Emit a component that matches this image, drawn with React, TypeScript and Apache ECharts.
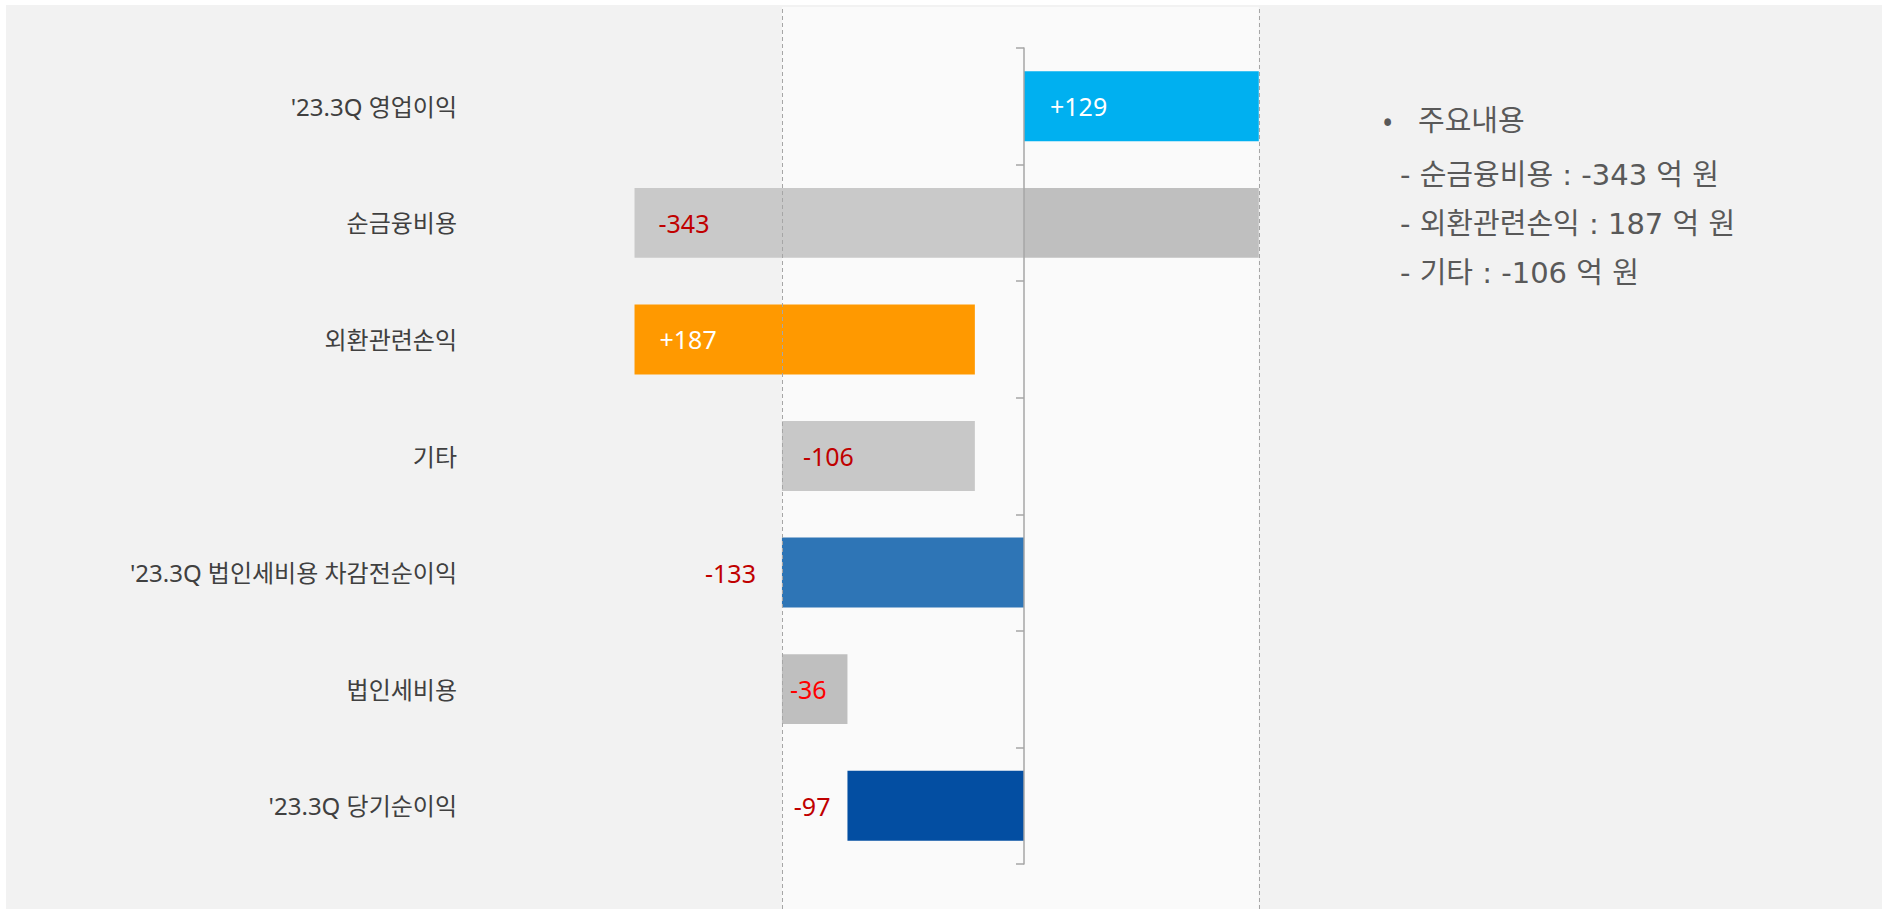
import React, { useEffect, useRef } from "react";
import * as echarts from "echarts";

const categories = [
  "'23.3Q 영업이익",
  "순금융비용",
  "외환관련손익",
  "기타",
  "'23.3Q 법인세비용 차감전순이익",
  "법인세비용",
  "'23.3Q 당기순이익",
];
const changes = [129, -343, 187, -106, -133, 36, -97];
const isTotal = [true, false, false, false, true, false, true];
const valueLabels = ["+129", "-343", "+187", "-106", "-133", "-36", "-97"];
const faintLabels = ["+44", "- 62"];
const noteTitle = "주요내용";
const noteLines = [
  "- 순금융비용 : -343 억 원",
  "- 외환관련손익 : 187 억 원",
  "- 기타 : -106 억 원",
];
const axisMin = -300;
const axisMax = 300;

// styles (kept apart from values)
const barFill = ["#00b0f0", "#c9c9c9", "#ff9900", "#c8c8c8", "#2e75b6", "#bfbfbf", "#034ea2"];
const barFillPositiveSide = ["#00b0f0", "#bfbfbf", "#ff9900", "#c8c8c8", "#2e75b6", "#bfbfbf", "#034ea2"];
const labelColors = ["#ffffff", "#c00000", "#ffffff", "#c00000", "#c00000", "#ff0000", "#c00000"];
const labelOffsets = [26, 24, 25, 21, -26, 8, -17];

const FONT = "'Noto Sans', 'Noto Sans CJK KR', sans-serif";
const NOTE_FONT = "'DejaVu Sans', 'Noto Sans CJK KR', sans-serif";

function buildBars() {
  let running = 0;
  const out: number[][] = [];
  changes.forEach((c, i) => {
    let s: number, e: number;
    if (isTotal[i]) {
      s = 0;
      e = c;
    } else {
      s = running;
      e = running + c;
    }
    running = e;
    out.push([i, s, e]);
  });
  return out;
}

export default function App() {
  const ref = useRef<HTMLDivElement>(null);
  useEffect(() => {
    if (!ref.current) return;
    const chart = echarts.init(ref.current, undefined, { renderer: "svg" });
    const bars = buildBars();
    const panelFrom = bars[4][2];
    const panelTo = bars[0][2];
    const gridLR = { left: 472, right: 312 };

    const option: any = {
      animation: false,
      backgroundColor: "#f2f2f2",
      grid: [
        { ...gridLR, top: 43, bottom: 45 },
        { ...gridLR, top: 2, bottom: 0 },
      ],
      xAxis: [
        { type: "value", gridIndex: 0, min: axisMin, max: axisMax, show: false },
        { type: "value", gridIndex: 1, min: axisMin, max: axisMax, show: false },
      ],
      yAxis: [
        {
          type: "category",
          gridIndex: 0,
          data: categories,
          inverse: true,
          position: "left",
          axisLine: { show: false, onZero: false },
          axisTick: { show: false },
          splitLine: { show: false },
          axisLabel: { fontSize: 24, color: "#404040", margin: 21, fontFamily: FONT },
        },
        {
          type: "category",
          gridIndex: 0,
          data: categories,
          inverse: true,
          position: "left",
          z: 5,
          axisLine: { show: true, onZero: true, onZeroAxisIndex: 0, lineStyle: { color: "#a6a6a6", width: 1.5 } },
          axisTick: { show: true, length: 8, lineStyle: { color: "#a6a6a6", width: 1.5 } },
          axisLabel: { show: false },
          splitLine: { show: false },
        },
        { type: "value", gridIndex: 1, min: 0, max: 1, show: false },
      ],
      series: [
        {
          type: "line",
          xAxisIndex: 1,
          yAxisIndex: 2,
          z: 0,
          silent: true,
          showSymbol: false,
          lineStyle: { opacity: 0 },
          data: [[0, 0.5]],
          markArea: {
            silent: true,
            itemStyle: { color: "#fafafa" },
            data: [[{ xAxis: panelFrom }, { xAxis: panelTo }]],
          },
        },
        {
          type: "custom",
          xAxisIndex: 0,
          yAxisIndex: 0,
          z: 2,
          data: bars,
          encode: { x: [1, 2], y: 0 },
          renderItem: (params: any, api: any) => {
            const i = api.value(0);
            const s = api.value(1);
            const e = api.value(2);
            const a = api.coord([s, i]);
            const b = api.coord([e, i]);
            const zero = api.coord([0, i])[0];
            const h = api.size([0, 1])[1] * 0.6;
            const x0 = Math.min(a[0], b[0]);
            const x1 = Math.max(a[0], b[0]);
            const y = a[1] - h / 2;
            const children: any[] = [];
            if (x0 < zero - 0.5 && x1 > zero + 0.5) {
              children.push({
                type: "rect",
                shape: { x: x0, y, width: zero - x0, height: h },
                style: { fill: barFill[i] },
              });
              children.push({
                type: "rect",
                shape: { x: zero, y, width: x1 - zero, height: h },
                style: { fill: barFillPositiveSide[i] },
              });
            } else {
              children.push({
                type: "rect",
                shape: { x: x0, y, width: x1 - x0, height: h },
                style: { fill: barFill[i] },
              });
            }
            const off = labelOffsets[i];
            children.push({
              type: "text",
              x: x0 + off,
              y: a[1],
              style: {
                text: valueLabels[i],
                fill: labelColors[i],
                fontSize: 25,
                fontFamily: FONT,
                align: off >= 0 ? "left" : "right",
                verticalAlign: "middle",
              },
            });
            return { type: "group", children };
          },
        },
        {
          type: "line",
          xAxisIndex: 1,
          yAxisIndex: 2,
          z: 4,
          silent: true,
          showSymbol: false,
          lineStyle: { opacity: 0 },
          data: [[0, 0.5]],
          markLine: {
            silent: true,
            symbol: ["none", "none"],
            label: { show: false },
            lineStyle: { type: [4, 3], color: "#a6a6a6", width: 1 },
            data: [{ xAxis: panelFrom }, { xAxis: panelTo }],
          },
        },
      ],
      graphic: [
        {
          type: "text",
          x: 1022,
          y: 485,
          style: { text: faintLabels[0], fill: "#ffffff", fontSize: 25, fontFamily: FONT, verticalAlign: "middle" },
        },
        {
          type: "text",
          x: 1106,
          y: 720,
          style: { text: faintLabels[1], fill: "#ffffff", fontSize: 25, fontFamily: FONT, verticalAlign: "middle" },
        },
        {
          type: "text",
          x: 1376,
          y: 117,
          style: { text: "•", fill: "#595959", fontSize: 30, fontFamily: FONT, verticalAlign: "middle" },
        },
        {
          type: "text",
          x: 1412,
          y: 116,
          style: { text: noteTitle, fill: "#595959", fontSize: 29, fontFamily: NOTE_FONT, verticalAlign: "middle" },
        },
        ...noteLines.map((t, k) => ({
          type: "text",
          x: 1394,
          y: 170 + k * 49,
          style: { text: t, fill: "#595959", fontSize: 29, fontFamily: NOTE_FONT, verticalAlign: "middle" },
        })),
      ],
    };
    chart.setOption(option);
    return () => chart.dispose();
  }, []);

  return (
    <div style={{ position: "fixed", left: 0, top: 0, width: 1882, height: 909, background: "#ffffff" }}>
      <div ref={ref} style={{ position: "absolute", left: 6, top: 5, width: 1876, height: 904 }} />
    </div>
  );
}
